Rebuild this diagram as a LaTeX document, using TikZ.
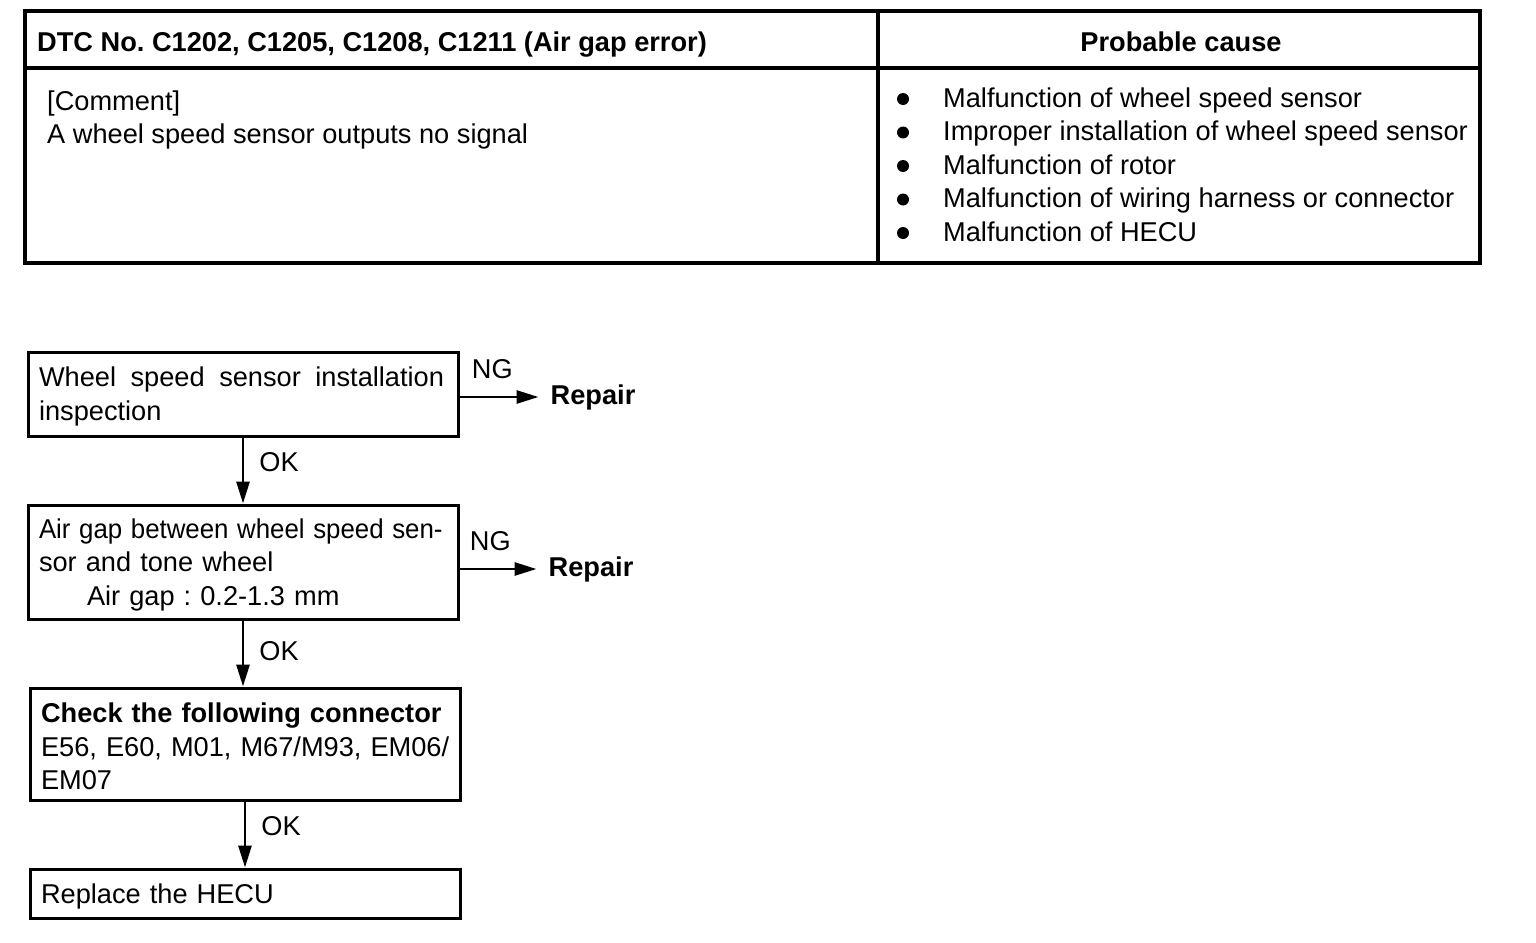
\documentclass[tikz,border=0pt]{standalone}
\usepackage{fontspec}
\setmainfont{Liberation Sans}
\usepackage{graphicx}
\usetikzlibrary{positioning,arrows.meta}
\frenchspacing

\begin{document}
\begin{tikzpicture}[x=1pt, y=-1pt, node distance=66pt,
  font=\fontsize{27.2}{33.5}\selectfont,
  rule/.style = {line width=3.2pt},
  cell/.style = {inner sep=0pt, anchor=base west},
  box/.style = {draw, line width=3pt, text width=408pt, align=left,
    inner xsep=11pt, inner ysep=0pt, text height=25pt},
  fix/.style = {inner xsep=12pt, inner ysep=0pt, font=\fontsize{27.2}{33.5}\selectfont\bfseries},
  flow/.style = {line width=2.8pt, -{Triangle[length=22pt,width=13pt]}},
  lbl/.style = {inner sep=0pt},
  dot/.style = {circle, fill, inner sep=0pt, minimum size=12pt}]
  \useasboundingbox (0,0) rectangle (1536,942);
  \draw[rule] (25,11) rectangle (1480,263);
  \draw[rule] (25,68) -- (1480,68);
  \draw[rule] (878,11) -- (878,263);
  \node[cell] (dtc) at (37,52) {\textbf{DTC No. C1202, C1205, C1208, C1211 (Air gap error)}};
  \node[cell, anchor=base] (cause) at (1181,52) {\textbf{Probable cause}};
  \node[cell] (comment) at (47,110) {[Comment]};
  \node[cell] (signal) at (47,143.5) {A wheel speed sensor outputs no signal};
  \foreach \txt [count=\i] in {Malfunction of wheel speed sensor,
      Improper installation of wheel speed sensor, Malfunction of rotor,
      Malfunction of wiring harness or connector, Malfunction of HECU}
    {
    \node[cell] (c\i) at (943,73.5+33.5*\i) {\txt};
    \node[dot] (d\i) at (903,65.5+33.5*\i) {};
    }

  \node[box, minimum height=84pt] (inst) at (243,394)
    {\hbox to 405pt{Wheel\hfill speed\hfill sensor\hfill installation}\\inspection};
  \node[box, minimum height=114pt, below=of inst] (gap)
    {\scalebox{0.95}[1]{Air gap between wheel speed sen-}\\sor and tone wheel\\\hspace*{48pt}Air gap : 0.2-1.3 mm};
  \node[box, minimum height=112pt, below=of gap, xshift=2pt] (conn)
    {\textbf{Check the following connector}\\\mbox{E56, E60, M01, M67/M93, EM06/}\\EM07};
  \node[box, minimum height=49pt, below=of conn] (hecu) {Replace the HECU};

  \node[fix, right=79pt of inst, yshift=-3pt] (fix1) {Repair};
  \node[fix, right=77pt of gap, yshift=-7pt] (fix2) {Repair};

  \draw[flow] (inst.east |- fix1) -- node[lbl, pos=0, above right=17pt and 11pt] {NG} (fix1);
  \draw[flow] (gap.east |- fix2) -- node[lbl, pos=0, above right=17pt and 9pt] {NG} (fix2);
  \draw[flow] (inst) -- node[lbl, pos=0.38, right=15pt] {OK} (inst |- gap.north);
  \draw[flow] (gap) -- node[lbl, pos=0.46, right=15pt] {OK} (gap |- conn.north);
  \draw[flow] (conn) -- node[lbl, pos=0.38, right=15pt] {OK} (conn |- hecu.north);
\end{tikzpicture}
\end{document}
